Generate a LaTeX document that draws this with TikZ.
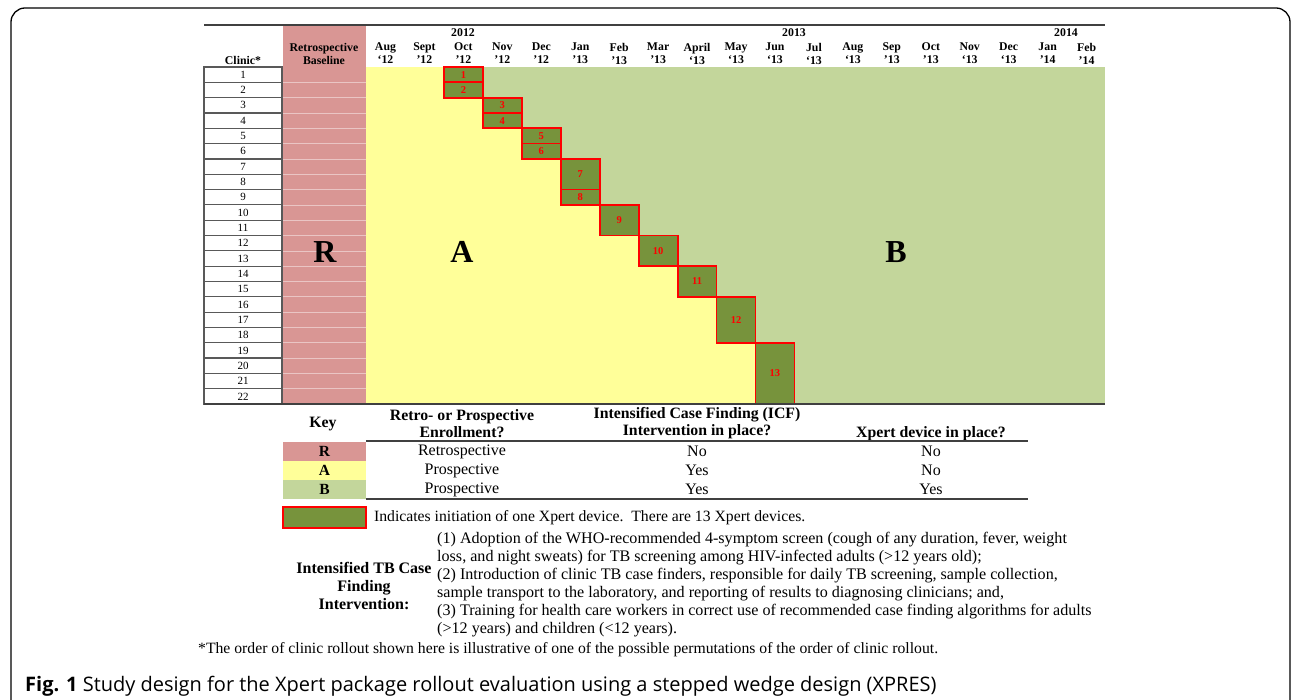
\documentclass[tikz,border=0pt]{standalone}
\usepackage{fontspec}
\setmainfont{Liberation Serif}
\newfontfamily\capfont{Open Sans}
\usetikzlibrary{positioning}

\definecolor{retropink}{RGB}{217,150,148}
\definecolor{prospyellow}{RGB}{255,255,153}
\definecolor{xpertgreen}{RGB}{195,214,155}
\definecolor{devgreen}{RGB}{119,147,60}

\begin{document}
\begin{tikzpicture}[x=1pt,y=-1pt,
  hdr/.style={font=\fontsize{11.8}{13}\selectfont\bfseries,align=center,inner sep=0pt},
  clinicbox/.style={draw=black!65,line width=1.2pt,fill=white,minimum width=78pt,minimum height=15.32pt,inner sep=0pt,font=\fontsize{11}{12}\selectfont},
  devbox/.style={draw=red,line width=1.8pt,fill=devgreen,inner sep=0pt,text=red,font=\fontsize{10.5}{12}\selectfont\bfseries},
  bigletter/.style={font=\fontsize{32}{34}\selectfont\bfseries,inner sep=0pt},
  keyhdr/.style={font=\fontsize{15.8}{17}\selectfont\bfseries,align=center,inner sep=0pt},
  keytxt/.style={font=\fontsize{16}{19}\selectfont,inner sep=0pt},
  body/.style={font=\fontsize{15.7}{18}\selectfont,inner sep=0pt}]
\useasboundingbox (0,0) rectangle (1292,700);
% outer frame
\draw[line width=1.3pt,rounded corners=14pt] (11,702) -- (11,8) -- (1290,8) -- (1290,702);

% timeline areas
\fill[retropink] (283,26) rectangle (366,404);
\fill[prospyellow] (366,67) rectangle (1105,404);
\foreach \n/\c/\ra/\rb in {1/2/1/1,2/2/2/2,3/3/3/3,4/3/4/4,5/4/5/5,6/4/6/6,7/5/7/8,8/5/9/9,9/6/10/11,10/7/12/13,11/8/14/15,12/9/16/18,13/10/19/22}
  \fill[xpertgreen] ({366+(\c+1)*38.95},{67+(\ra-1)*15.32}) rectangle (1105,{67+\rb*15.32});
\foreach \r in {1,...,21}
  \draw[retropink!55!white,line width=0.6pt] (283,{67+\r*15.32}) -- (366,{67+\r*15.32});

% clinics
\foreach \r in {1,...,22}
  \node[clinicbox] (clinic\r) at (243,{67+(\r-0.5)*15.32}) {\r};

% Xpert devices
\foreach \n/\c/\ra/\rb in {1/2/1/1,2/2/2/2,3/3/3/3,4/3/4/4,5/4/5/5,6/4/6/6,7/5/7/8,8/5/9/9,9/6/10/11,10/7/12/13,11/8/14/15,12/9/16/18,13/10/19/22}
  \node[devbox,minimum width=38.95pt,minimum height={(\rb-\ra+1)*15.32pt}] (dev\n) at ({366+(\c+0.5)*38.95},{67+(\ra+\rb-1)*7.66}) {\n};

% rules
\draw[black!75,line width=2pt] (204,25) -- (1105,25);
\draw[black!75,line width=1.5pt] (204,404) -- (1105,404);

% header
\node[hdr] (clinic_hdr) at (243,60) {Clinic*};
\node[hdr] (retro_hdr) at (324,53.5) {Retrospective\\Baseline};
\node[hdr] (yr_2012) at (463,33) {2012};
\node[hdr] (yr_2013) at (794,33) {2013};
\node[hdr] (yr_2014) at (1066,33) {2014};
\foreach \mo/\yr [count=\i from 0] in {Aug/‘12,Sept/'12,Oct/'12,Nov/'12,Dec/'12,Jan/'13,Feb/'13,Mar/'13,April/‘13,May/‘13,Jun/‘13,Jul/‘13,Aug/‘13,Sep/'13,Oct/'13,Nov/‘13,Dec/‘13,Jan/'14,Feb/'14}
  \node[hdr] (mon\i) at ({366+(\i+0.5)*38.95},53.5) {\mo\\\yr};

\node[bigletter] (zone_r) at (325,252) {R};
\node[bigletter] (zone_a) at (462,252) {A};
\node[bigletter] (zone_b) at (896,252) {B};

% key
\node[keyhdr] (key_hdr) at (323,424) {Key};
\node[keyhdr] (enrol_hdr) at (462,423.5) {Retro- or Prospective\\Enrollment?};
\node[keyhdr] (icf_hdr) at (697,423.5) {Intensified Case Finding (ICF)\\Intervention in place?};
\node[keyhdr] (xpert_hdr) at (931,434) {Xpert device in place?};
\draw[black!75,line width=1.5pt] (366,441) -- (1028,441);
\foreach \k/\col/\enr/\icf/\dev [count=\j from 0] in {R/retropink/Retrospective/No/No,A/prospyellow/Prospective/Yes/No,B/xpertgreen/Prospective/Yes/Yes}{
  \node[fill=\col,minimum width=83pt,minimum height=19pt,inner sep=0pt,font=\fontsize{15.5}{17}\selectfont\bfseries] (key_\k) at (324.5,{451.5+\j*19}) {\k};
  \node[keytxt] (enr_\k) at (462,{451.5+\j*19}) {\enr};
  \node[keytxt] (icf_\k) at (697,{451.5+\j*19}) {\icf};
  \node[keytxt] (xpert_\k) at (931,{451.5+\j*19}) {\dev};
}
\draw[black!75,line width=1.5pt] (366,499) -- (1028,499);

\node[devbox,minimum width=83pt,minimum height=21pt] (dev_key) at (324.5,517.5) {};
\node[body,right=7pt of dev_key] (dev_note) {Indicates initiation of one Xpert device.\ \ There are 13 Xpert devices.};

\node[keyhdr,font=\fontsize{16}{18}\selectfont\bfseries] (icf_label) at (364,586) {Intensified TB Case\\Finding\\Intervention:};
\node[body,font=\fontsize{16.1}{18}\selectfont,align=left,anchor=north west] (icf_text) at (437,532) {(1) Adoption of the WHO-recommended 4-symptom screen (cough of any duration, fever, weight\\loss, and night sweats) for TB screening among HIV-infected adults (>12 years old);\\(2) Introduction of clinic TB case finders, responsible for daily TB screening, sample collection,\\sample transport to the laboratory, and reporting of results to diagnosing clinicians; and,\\(3) Training for health care workers in correct use of recommended case finding algorithms for adults\\(>12 years) and children (<12 years).};
\node[body,anchor=west] (footnote) at (198,650) {*The order of clinic rollout shown here is illustrative of one of the possible permutations of the order of clinic rollout.};

\node[anchor=west,inner sep=0pt,font=\capfont\fontsize{20}{22}\selectfont] (caption) at (25,686) {\textbf{Fig. 1} Study design for the Xpert package rollout evaluation using a stepped wedge design (XPRES)};
\end{tikzpicture}
\end{document}
